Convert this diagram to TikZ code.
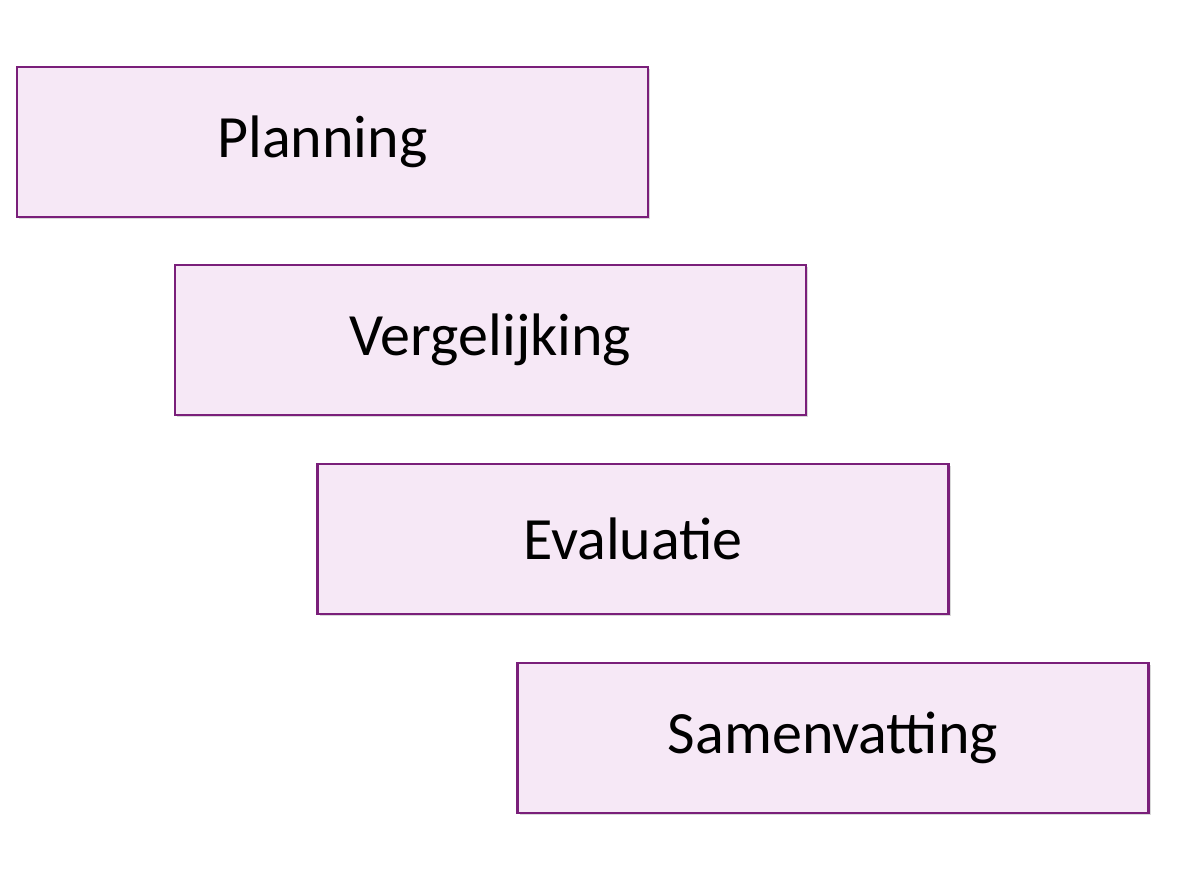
\documentclass[tikz,border=0pt]{standalone}
\usepackage{fontspec}
\setmainfont{Carlito}
\usetikzlibrary{shadows}
\definecolor{boxfill}{HTML}{F6E8F6}
\definecolor{boxdraw}{HTML}{7A1F7A}
\begin{document}
\begin{tikzpicture}[x=1pt,y=1pt,
  stepbox/.style={draw=boxdraw,line width=2.2pt,fill=boxfill,minimum width=631pt,minimum height=150pt,
    font=\fontsize{60}{68}\selectfont,drop shadow={shadow xshift=2pt,shadow yshift=-2pt,opacity=0.3}}]
\useasboundingbox (0,0) rectangle (1193,896);
\node[stepbox] (p) at (332.5,754) {\raisebox{-6pt}{\hspace*{-20pt}Planning}};
\node[stepbox] (v) at (490.5,556) {\raisebox{-6pt}{Vergelijking}};
\node[stepbox] (e) at (633,357) {\raisebox{-6pt}{Evaluatie}};
\node[stepbox] (s) at (833,158) {\raisebox{-6pt}{Samenvatting}};
\end{tikzpicture}
\end{document}
